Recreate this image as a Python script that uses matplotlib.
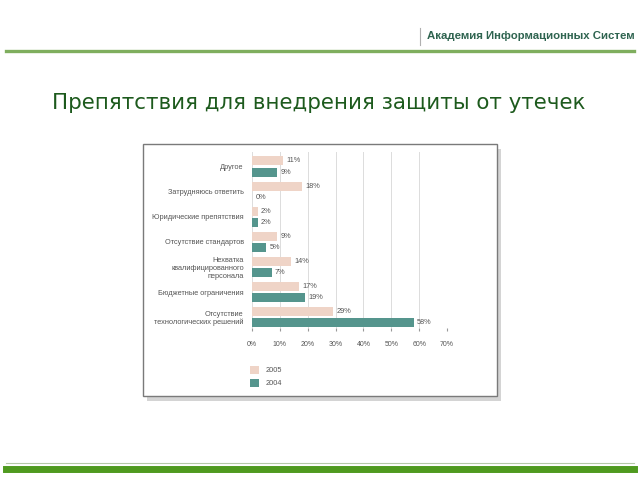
import numpy as np
import matplotlib.pyplot as plt
from matplotlib.patches import Rectangle, Patch
from matplotlib.lines import Line2D

# data
categories = ['Другое', 'Затрудняюсь ответить', 'Юридические препятствия',
              'Отсутствие стандартов', 'Нехватка\nквалифицированного\nперсонала',
              'Бюджетные ограничения', 'Отсутствие\nтехнологических решений']
vals_2005 = [11, 18, 2, 9, 14, 17, 29]
vals_2004 = [9, 0, 2, 5, 7, 19, 58]
xticks = [0, 10, 20, 30, 40, 50, 60, 70]
series_names = ['2005', '2004']

c2005 = '#efd4c7'
c2004 = '#55958d'
txt = '#555555'
font = ['Liberation Sans', 'DejaVu Sans']

fig = plt.figure(figsize=(6.4, 4.8), dpi=100)
W, H = 640.0, 480.0

# slide decoration
fig.add_artist(Line2D([6/W, 634/W], [1-51/H, 1-51/H], color='#7fae5e', lw=2.4))
fig.add_artist(Line2D([420/W, 420/W], [1-28/H, 1-45/H], color='#b0b0b0', lw=0.8))
fig.text(635/W, 1-36/H, 'Академия Информационных Систем', fontsize=8.2,
         family=font, weight='bold',
         color='#2f6450', va='center', ha='right')
fig.text(52/W, 1-103/H, 'Препятствия для внедрения защиты от утечек',
         fontsize=15.4, color='#1d5a1d', va='center', ha='left',
         family=['DejaVu Sans'])
fig.add_artist(Line2D([6/W, 634/W], [1-463/H, 1-463/H], color='#b5c9a8', lw=0.8))
fig.add_artist(Line2D([6/W, 634/W], [1-468.5/H, 1-468.5/H], color='#4f9a1f', lw=5))

# framed chart picture with shadow
fig.add_artist(Rectangle((147/W, 1-401/H), 354/W, 252/H, facecolor='#d4d4d4',
                         edgecolor='none', transform=fig.transFigure, zorder=0))
fig.add_artist(Rectangle((143/W, 1-396/H), 354/W, 252/H, facecolor='white',
                         edgecolor='#7a7a7a', lw=1.0, transform=fig.transFigure, zorder=0.5))

ax = fig.add_axes([252/W, 1-328/H, 195/W, 176/H])
ax.set_zorder(2)
ax.set_facecolor('none')
y = -np.arange(len(categories))
bh = 0.36
ax.barh(y + 0.225, vals_2005, height=bh, color=c2005, zorder=3)
ax.barh(y - 0.225, vals_2004, height=bh, color=c2004, zorder=3)
for yi, v in zip(y, vals_2005):
    ax.text(v + 1.2, yi + 0.225, f'{v}%', fontsize=5.3, color=txt, va='center', family=font)
for yi, v in zip(y, vals_2004):
    ax.text(v + 1.2, yi - 0.225, f'{v}%', fontsize=5.3, color=txt, va='center', family=font)

ax.set_xlim(0, 70)
ax.set_ylim(-6.43, 0.58)
ax.set_xticks(xticks)
ax.set_xticklabels([f'{t}%' for t in xticks], fontsize=5, color=txt, family=font)
ax.set_yticks(y)
ax.set_yticklabels(categories, fontsize=5.3, color=txt, family=font, linespacing=1.15)
ax.tick_params(axis='y', length=0, pad=6)
ax.tick_params(axis='x', length=2, color='#999999', pad=7)
ax.grid(axis='x', color='#dcdcdc', lw=0.7, zorder=0)
for s in ax.spines.values():
    s.set_visible(False)

handles = [Patch(facecolor=c2005, edgecolor='none'), Patch(facecolor=c2004, edgecolor='none')]
leg = fig.legend(handles, series_names, loc='upper left', bbox_to_anchor=(250/W, 1-366/H),
                 frameon=False, handlelength=1.2, handleheight=1.2,
                 handletextpad=0.9, labelspacing=0.65, borderpad=0, borderaxespad=0,
                 prop={'family': font, 'size': 5.3})
leg.set_zorder(3)
for t in leg.get_texts():
    t.set_color(txt)

fig.savefig('out.png', dpi=100)
